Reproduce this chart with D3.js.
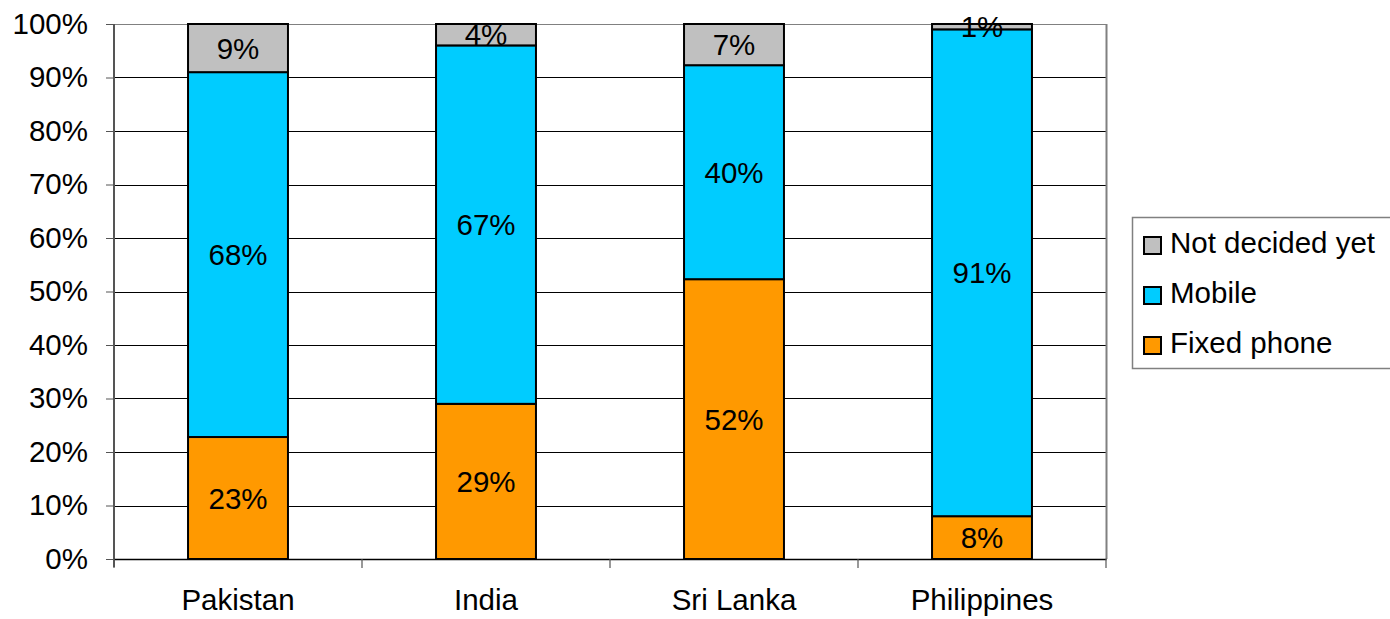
<!DOCTYPE html>
<html><head><meta charset="utf-8">
<script src="https://cdn.jsdelivr.net/npm/d3@7/dist/d3.min.js"></script>
<style>body{margin:0;background:#fff}svg{display:block;font-family:"Liberation Sans",Arial,sans-serif}</style>
</head><body><svg id="c" width="1390" height="619"></svg>
<script>
const categories = ["Pakistan", "India", "Sri Lanka", "Philippines"];
const seriesNames = ["Fixed phone", "Mobile", "Not decided yet"];
const fixedPhone = [22.8, 29.0, 52.3, 8.0];
const mobile = [68.2, 67.0, 40.0, 91.0];
const notDecided = [9.0, 4.0, 7.7, 1.0];
const fixedLabels = ["23%", "29%", "52%", "8%"];
const mobileLabels = ["68%", "67%", "40%", "91%"];
const notDecidedLabels = ["9%", "4%", "7%", "1%"];
const yTicks = [0, 10, 20, 30, 40, 50, 60, 70, 80, 90, 100];
const colors = ["#ff9900", "#00ccff", "#c0c0c0"];

const FS = 29.5;
const svg = d3.select("#c");
const m = {l:114, r:1106, t:24, b:559};
const x = d3.scaleBand().domain(categories).range([m.l, m.r]).paddingInner(0.597).paddingOuter(0.2985);
const y = d3.scaleLinear().domain([0, 100]).range([m.b, m.t]);

// gridlines
svg.append("g").selectAll("line").data(yTicks.filter(d => d > 0)).join("line")
  .attr("x1", m.l).attr("x2", m.r).attr("y1", d => Math.round(y(d)) + 0.5).attr("y2", d => Math.round(y(d)) + 0.5)
  .attr("stroke", d => d === 100 ? "#808080" : "#000").attr("stroke-width", 1);
// right border
svg.append("line").attr("x1", m.r + 0.5).attr("x2", m.r + 0.5).attr("y1", m.t).attr("y2", m.b).attr("stroke", "#808080").attr("stroke-width", 2);

// y axis
const yAxis = svg.append("g").attr("transform", `translate(${m.l},0)`)
  .call(d3.axisLeft(y).tickValues(yTicks).tickFormat(d => d + "%").tickSize(8).tickPadding(18));
yAxis.select(".domain").attr("stroke", "#555").attr("stroke-width", 2).attr("d", `M0,${m.t}V${m.b + 8}`);
yAxis.selectAll(".tick line").attr("stroke", "#555");
yAxis.selectAll("text").attr("font-size", FS).attr("fill", "#000").attr("font-family", "Liberation Sans, Arial, sans-serif");

// x axis
const xAxis = svg.append("g").attr("transform", `translate(0,${m.b})`)
  .call(d3.axisBottom(x).tickSize(0).tickPadding(30));
xAxis.select(".domain").attr("stroke", "#000").attr("stroke-width", 1.5);
xAxis.selectAll("text").attr("font-size", FS).attr("fill", "#000").attr("font-family", "Liberation Sans, Arial, sans-serif");
const bounds = d3.range(categories.length + 1).map(i => m.l + i * (m.r - m.l) / categories.length);
svg.append("g").selectAll("line").data(bounds).join("line")
  .attr("x1", d => d).attr("x2", d => d).attr("y1", m.b).attr("y2", m.b + 9).attr("stroke", "#555").attr("stroke-width", 1.2);

// stack
const rows = categories.map((c, i) => ({cat: c, f: fixedPhone[i], m: mobile[i], n: notDecided[i], i}));
const stack = d3.stack().keys(["f", "m", "n"])(rows);
const labelSets = [fixedLabels, mobileLabels, notDecidedLabels];

stack.forEach((layer, k) => {
  const g = svg.append("g");
  g.selectAll("rect").data(layer).join("rect")
    .attr("x", d => x(d.data.cat)).attr("width", x.bandwidth())
    .attr("y", d => y(d[1])).attr("height", d => y(d[0]) - y(d[1]))
    .attr("fill", colors[k]).attr("stroke", "#000").attr("stroke-width", 2);
});
stack.forEach((layer, k) => {
  svg.append("g").selectAll("text").data(layer).join("text")
    .attr("x", d => x(d.data.cat) + x.bandwidth() / 2)
    .attr("y", d => (y(d[0]) + y(d[1])) / 2)
    .attr("dy", "0.36em").attr("text-anchor", "middle").attr("font-size", FS).attr("fill", "#000")
    .text(d => labelSets[k][d.data.i]);
});

// legend
const lg = svg.append("g");
lg.append("rect").attr("x", 1132.5).attr("y", 217.5).attr("width", 270).attr("height", 151)
  .attr("fill", "#fff").attr("stroke", "#808080").attr("stroke-width", 1.5);
const legendOrder = [2, 1, 0];
const ly = d3.scalePoint().domain(legendOrder).range([242, 342]);
legendOrder.forEach(k => {
  lg.append("rect").attr("x", 1144).attr("y", ly(k) - 5).attr("width", 17).attr("height", 17)
    .attr("fill", colors[k]).attr("stroke", "#000").attr("stroke-width", 2);
  lg.append("text").attr("x", 1170).attr("y", ly(k)).attr("dy", "0.36em").attr("font-size", FS).attr("fill", "#000")
    .text(seriesNames[k]);
});
</script></body></html>
